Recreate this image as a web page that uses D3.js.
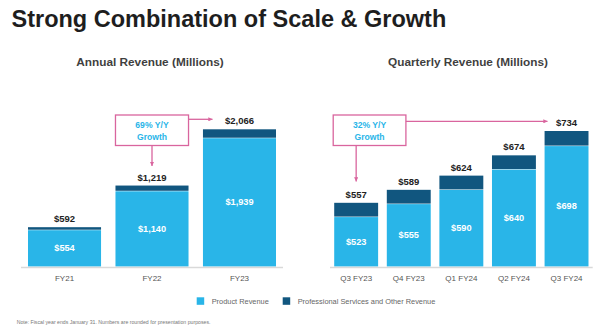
<!DOCTYPE html>
<html><head><meta charset="utf-8">
<script src="https://cdn.jsdelivr.net/npm/d3@7"></script>
<style>
html,body{margin:0;padding:0;background:#fff;}
svg{display:block;font-family:"Liberation Sans",Arial,sans-serif;}
</style></head>
<body>
<svg id="c" width="602" height="329"></svg>
<script>
const annualCats = ["FY21", "FY22", "FY23"];
const annualProduct = [554, 1140, 1939];
const annualTotal = [592, 1219, 2066];
const quarterCats = ["Q3 FY23", "Q4 FY23", "Q1 FY24", "Q2 FY24", "Q3 FY24"];
const quarterProduct = [523, 555, 590, 640, 698];
const quarterTotal = [557, 589, 624, 674, 734];
const legendLabels = ["Product Revenue", "Professional Services and Other Revenue"];
const annualGrowth = ["69% Y/Y", "Growth"];
const quarterGrowth = ["32% Y/Y", "Growth"];

const C_PROD = "#29B5E8", C_SVC = "#11567F", C_PINK = "#D9659E";
const svg = d3.select("#c");
const fmt = v => "$" + d3.format(",")(v);

svg.append("text").attr("x", 11.5).attr("y", 26.7).attr("font-size", 23.5).attr("font-weight", "bold")
  .attr("fill", "#1e1e1e").text("Strong Combination of Scale & Growth");

const defs = svg.append("defs");
defs.append("marker").attr("id", "ah").attr("viewBox", "0 0 10 10").attr("refX", 10).attr("refY", 5)
  .attr("markerWidth", 3.2).attr("markerHeight", 3.2).attr("orient", "auto")
  .attr("markerUnits", "strokeWidth")
  .append("path").attr("d", "M0,0L10,5L0,10Z").attr("fill", C_PINK);

const baseY = 266.5;

function panel(cats, prod, total, xr, yDomMin, yTop, title, titleX) {
  const x = d3.scaleBand().domain(cats).range(xr).paddingInner(0.165).paddingOuter(0.08);
  const y = d3.scaleLinear().domain([yDomMin, d3.max(total)]).range([baseY, yTop]);
  const g = svg.append("g");
  g.append("text").attr("x", titleX).attr("y", 66).attr("text-anchor", "middle").attr("font-size", 11.8)
    .attr("font-weight", "bold").attr("fill", "#3f3f3f").text(title);
  const data = cats.map((c, i) => ({c, p: prod[i], t: total[i]}));
  // services segment
  g.selectAll(".svc").data(data).join("rect").attr("x", d => x(d.c)).attr("width", x.bandwidth())
    .attr("y", d => y(d.t)).attr("height", d => y(d.p) - y(d.t)).attr("fill", C_SVC);
  g.selectAll(".prod").data(data).join("rect").attr("x", d => x(d.c)).attr("width", x.bandwidth())
    .attr("y", d => y(d.p) + 0.5).attr("height", d => baseY - y(d.p) - 0.5).attr("fill", C_PROD);
  g.selectAll(".tl").data(data).join("text").attr("x", d => x(d.c) + x.bandwidth() / 2)
    .attr("y", d => y(d.t) - 5).attr("text-anchor", "middle").attr("font-size", 9.5).attr("font-weight", "bold")
    .attr("fill", "#222").text(d => fmt(d.t));
  g.selectAll(".pl").data(data).join("text").attr("x", d => x(d.c) + x.bandwidth() / 2)
    .attr("y", d => (y(d.p) + baseY) / 2).attr("dy", "0.35em").attr("text-anchor", "middle")
    .attr("font-size", 9.2).attr("font-weight", "bold").attr("fill", "#fff").text(d => fmt(d.p));
  // axis
  const ax = g.append("g").attr("transform", `translate(0,${baseY})`)
    .call(d3.axisBottom(x).tickSize(0).tickPadding(8.5));
  ax.select(".domain").attr("stroke", "#d9d9d9").attr("stroke-width", 1.6).attr("d", `M${xr[0]},1H${xr[1]}`);
  ax.selectAll("text").attr("font-size", 8).attr("fill", "#555").attr("font-family", "Liberation Sans, Arial, sans-serif");
  return {x, y, data};
}

const A = panel(annualCats, annualProduct, annualTotal, [21, 283], 0, 129.3, "Annual Revenue (Millions)", 150);
const Q = panel(quarterCats, quarterProduct, quarterTotal, [330, 592.7], 400, 131, "Quarterly Revenue (Millions)", 468);

function growth(lines, bx, bw, downX, downY, rightY, rightX) {
  const g = svg.append("g");
  const by = 115, bh = 30.5;
  g.append("rect").attr("x", bx).attr("y", by).attr("width", bw).attr("height", bh)
    .attr("fill", "#fff").attr("stroke", C_PINK).attr("stroke-width", 1.3);
  lines.forEach((t, i) => g.append("text").attr("x", bx + bw / 2).attr("y", 128 + i * 11.7)
    .attr("text-anchor", "middle").attr("font-size", 8.6).attr("font-weight", "bold").attr("fill", C_PROD).text(t));
  g.append("line").attr("x1", downX).attr("x2", downX).attr("y1", by + bh).attr("y2", downY)
    .attr("stroke", C_PINK).attr("stroke-width", 1.3).attr("marker-end", "url(#ah)");
  g.append("line").attr("x1", bx + bw).attr("x2", rightX).attr("y1", rightY).attr("y2", rightY)
    .attr("stroke", C_PINK).attr("stroke-width", 1.3).attr("marker-end", "url(#ah)");
}
const ab = A.x(annualCats[1]);
growth(annualGrowth, ab, A.x.bandwidth(), ab + A.x.bandwidth() / 2, 166, 119.3, 212.5);
const qb = Q.x(quarterCats[0]);
growth(quarterGrowth, qb - 1, 72.7, qb + Q.x.bandwidth() / 2, 181.5, 121.3, 547.5);

// legend
const lg = svg.append("g");
[[196.7, C_PROD, legendLabels[0], 211.7], [282.7, C_SVC, legendLabels[1], 297.7]].forEach(([lx, col, t, tx]) => {
  lg.append("rect").attr("x", lx).attr("y", 297.3).attr("width", 7.5).attr("height", 7.5).attr("fill", col);
  lg.append("text").attr("x", tx).attr("y", 304.2).attr("font-size", 7.4).attr("fill", "#666").text(t);
});
svg.append("text").attr("x", 16.7).attr("y", 323.5).attr("font-size", 5.2).attr("fill", "#777")
  .text("Note: Fiscal year ends January 31. Numbers are rounded for presentation purposes.");
</script>
</body></html>
